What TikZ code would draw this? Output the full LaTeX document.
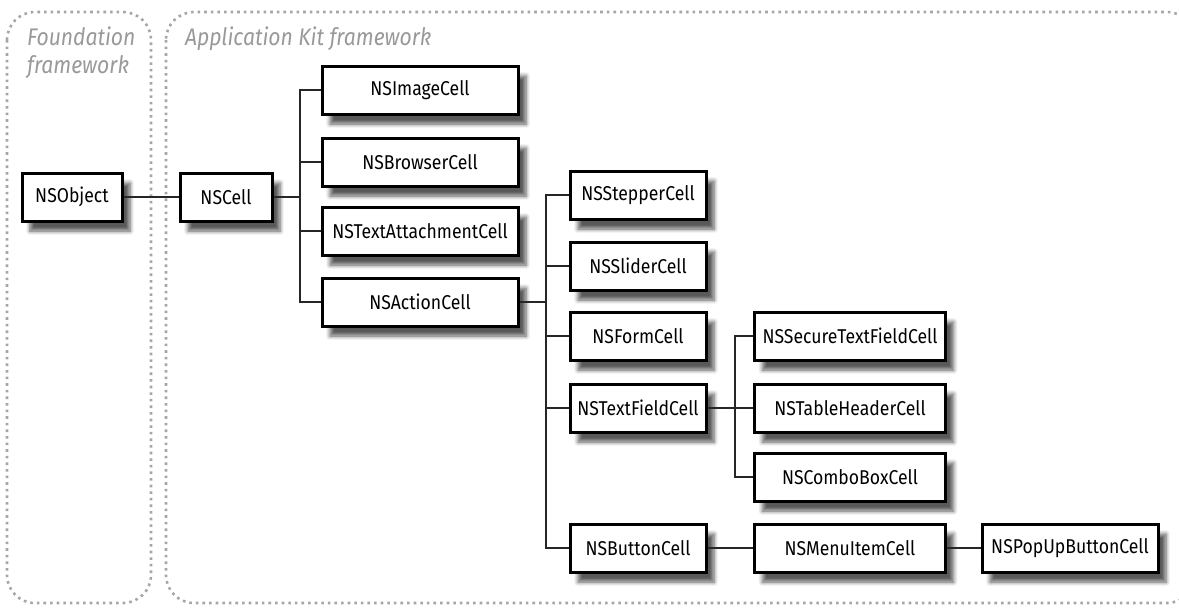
\documentclass[tikz,border=0pt]{standalone}
\usepackage{fontspec}
\setmainfont{Fira Sans}[FakeStretch=0.88]
\usetikzlibrary{positioning,shadows.blur}
\tikzset{
  cellbox/.style={draw, line width=1.5pt, fill=white, minimum height=24pt,
    inner sep=2pt, font=\fontsize{10}{12}\selectfont,
    blur shadow={shadow xshift=4pt, shadow yshift=-5pt, shadow blur steps=6, shadow opacity=65}},
  link/.style={line width=0.8pt, draw=black!85},
  frame/.style={draw=black!35, line width=1.3pt, dotted, rounded corners=14pt},
  framelabel/.style={text=black!40, font=\fontsize{12}{14}\selectfont\itshape, anchor=north west, align=left}
}
\begin{document}
\begin{tikzpicture}[x=0.5pt,y=-0.5pt]
\useasboundingbox (0,0) rectangle (1179,607);
\draw[frame] (7,12) rectangle (151,603);
\draw[frame] (166,12) rectangle (1195,603);
\node[framelabel] (fndlabel) at (20,20) {Foundation\\framework};
\node[framelabel] (appkitlabel) at (178,20) {Application Kit framework};

\node[cellbox, minimum width=50pt] (object) at (72,197) {NSObject};
\node[cellbox, minimum width=46pt] (cell) at (226,197) {NSCell};

\node[cellbox, minimum width=98pt] (image) at (420,90) {NSImageCell};
\node[cellbox, minimum width=98pt] (browser) at (420,162) {NSBrowserCell};
\node[cellbox, minimum width=98pt] (attach) at (420,231) {NSTextAttachmentCell};
\node[cellbox, minimum width=98pt] (action) at (420,302) {NSActionCell};

\node[cellbox, minimum width=68pt] (stepper) at (638,195) {NSStepperCell};
\node[cellbox, minimum width=68pt] (slider) at (638,266) {NSSliderCell};
\node[cellbox, minimum width=68pt] (form) at (638,336) {NSFormCell};
\node[cellbox, minimum width=68pt] (textfield) at (638,408) {NSTextFieldCell};
\node[cellbox, minimum width=68pt] (button) at (638,548) {NSButtonCell};

\node[cellbox, minimum width=95.5pt] (secure) at (850,336) {NSSecureTextFieldCell};
\node[cellbox, minimum width=95.5pt] (header) at (850,408) {NSTableHeaderCell};
\node[cellbox, minimum width=95.5pt] (combo) at (850,477) {NSComboBoxCell};
\node[cellbox, minimum width=95.5pt] (menuitem) at (850,548) {NSMenuItemCell};
\node[cellbox, minimum width=88pt] (popup) at (1070,548) {NSPopUpButtonCell};

\coordinate (cellbus) at (300,197);
\coordinate (actionbus) at (546,302);
\coordinate (fieldbus) at (735,408);

\draw[link] (object) -- (cell);
\draw[link] (cell) -- (cellbus);
\foreach \n in {image,browser,attach,action} \draw[link] (cellbus) |- (\n.west);
\draw[link] (action) -- (actionbus);
\foreach \n in {stepper,slider,form,textfield,button} \draw[link] (actionbus) |- (\n.west);
\draw[link] (textfield) -- (fieldbus);
\foreach \n in {secure,header,combo} \draw[link] (fieldbus) |- (\n.west);
\draw[link] (button) -- (menuitem);
\draw[link] (menuitem) -- (popup);
\end{tikzpicture}
\end{document}
